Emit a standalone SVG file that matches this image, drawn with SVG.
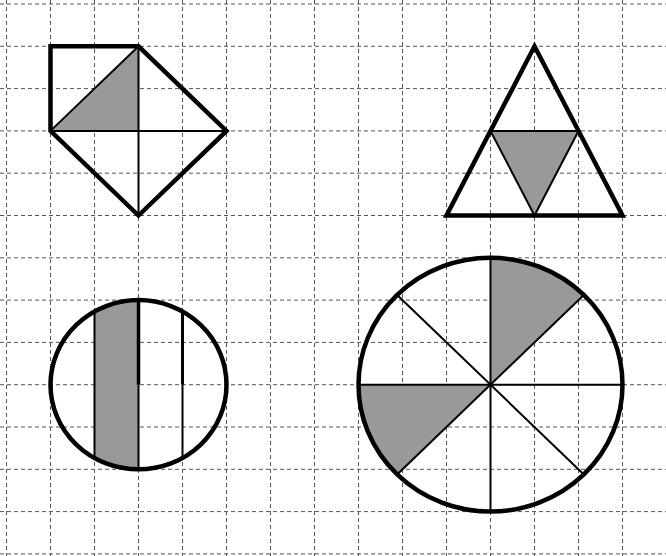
<svg xmlns="http://www.w3.org/2000/svg" width="666" height="556" viewBox="0 0 666 556">
<style>
.grid line{stroke:#555;stroke-width:1;stroke-dasharray:4 3}
.thick{fill:none;stroke:#000;stroke-width:4.5;stroke-linejoin:miter}
.thin{fill:none;stroke:#000;stroke-width:2}
.shade{fill:#999;stroke:none}
</style>
<defs>
<clipPath id="smallClip"><ellipse cx="138.5" cy="384.7" rx="88" ry="84.6"/></clipPath>
</defs>
<rect width="666" height="556" fill="#fff"/>
<g class="grid">
<line x1="6.5" y1="0" x2="6.5" y2="556"/><line x1="50.5" y1="0" x2="50.5" y2="556"/><line x1="94.5" y1="0" x2="94.5" y2="556"/><line x1="138.5" y1="0" x2="138.5" y2="556"/><line x1="182.5" y1="0" x2="182.5" y2="556"/><line x1="226.5" y1="0" x2="226.5" y2="556"/><line x1="270.5" y1="0" x2="270.5" y2="556"/><line x1="314.5" y1="0" x2="314.5" y2="556"/><line x1="358.5" y1="0" x2="358.5" y2="556"/><line x1="402.5" y1="0" x2="402.5" y2="556"/><line x1="446.5" y1="0" x2="446.5" y2="556"/><line x1="490.5" y1="0" x2="490.5" y2="556"/><line x1="534.5" y1="0" x2="534.5" y2="556"/><line x1="578.5" y1="0" x2="578.5" y2="556"/><line x1="622.5" y1="0" x2="622.5" y2="556"/>
<line x1="0" y1="4" x2="666" y2="4"/><line x1="0" y1="46.3" x2="666" y2="46.3"/><line x1="0" y1="88.6" x2="666" y2="88.6"/><line x1="0" y1="130.9" x2="666" y2="130.9"/><line x1="0" y1="173.2" x2="666" y2="173.2"/><line x1="0" y1="215.5" x2="666" y2="215.5"/><line x1="0" y1="257.8" x2="666" y2="257.8"/><line x1="0" y1="300.1" x2="666" y2="300.1"/><line x1="0" y1="342.4" x2="666" y2="342.4"/><line x1="0" y1="384.7" x2="666" y2="384.7"/><line x1="0" y1="427" x2="666" y2="427"/><line x1="0" y1="469.3" x2="666" y2="469.3"/><line x1="0" y1="511.6" x2="666" y2="511.6"/><line x1="0" y1="553.9" x2="666" y2="553.9"/>
</g>
<g id="square-diamond">
<polygon class="shade" points="50.5,130.9 138.5,46.3 138.5,130.9"/>
<line class="thin" x1="50.5" y1="130.9" x2="226.5" y2="130.9"/>
<line class="thin" x1="138.5" y1="46.3" x2="138.5" y2="215.5"/>
<line class="thin" x1="50.5" y1="130.9" x2="138.5" y2="46.3"/>
<path class="thick" d="M50.5,130.9 L50.5,46.3 L138.5,46.3 L226.5,130.9 L138.5,215.5 Z"/>
</g>
<g id="triangle">
<polygon class="shade" points="490.5,130.9 578.5,130.9 534.5,215.5"/>
<polygon class="thin" points="490.5,130.9 578.5,130.9 534.5,215.5"/>
<polygon class="thick" points="534.5,46.3 622.5,215.5 446.5,215.5"/>
</g>
<g id="small-circle">
<rect class="shade" x="94.5" y="300" width="44" height="170" clip-path="url(#smallClip)"/>
<line class="thin" x1="94.5" y1="311.4" x2="94.5" y2="458"/>
<line x1="138.5" y1="300.1" x2="138.5" y2="384.7" stroke="#000" stroke-width="3.5"/>
<line class="thin" x1="138.5" y1="384.7" x2="138.5" y2="469.3"/>
<line x1="182.5" y1="311.4" x2="182.5" y2="384.7" stroke="#000" stroke-width="3"/>
<line class="thin" x1="182.5" y1="384.7" x2="182.5" y2="458"/>
<ellipse class="thick" cx="138.5" cy="384.7" rx="88" ry="84.6"/>
</g>
<g id="big-circle">
<path class="shade" d="M490.5,384.7 L490.5,257.8 A132,126.9 0 0 1 583.84,294.97 Z"/>
<path class="shade" d="M490.5,384.7 L358.5,384.7 A132,126.9 0 0 0 397.16,474.43 Z"/>
<line class="thin" x1="490.5" y1="257.8" x2="490.5" y2="511.6"/>
<line class="thin" x1="358.5" y1="384.7" x2="622.5" y2="384.7"/>
<line class="thin" x1="397.16" y1="294.97" x2="583.84" y2="474.43"/>
<line class="thin" x1="583.84" y1="294.97" x2="397.16" y2="474.43"/>
<ellipse class="thick" cx="490.5" cy="384.7" rx="132" ry="126.9"/>
</g>
</svg>
